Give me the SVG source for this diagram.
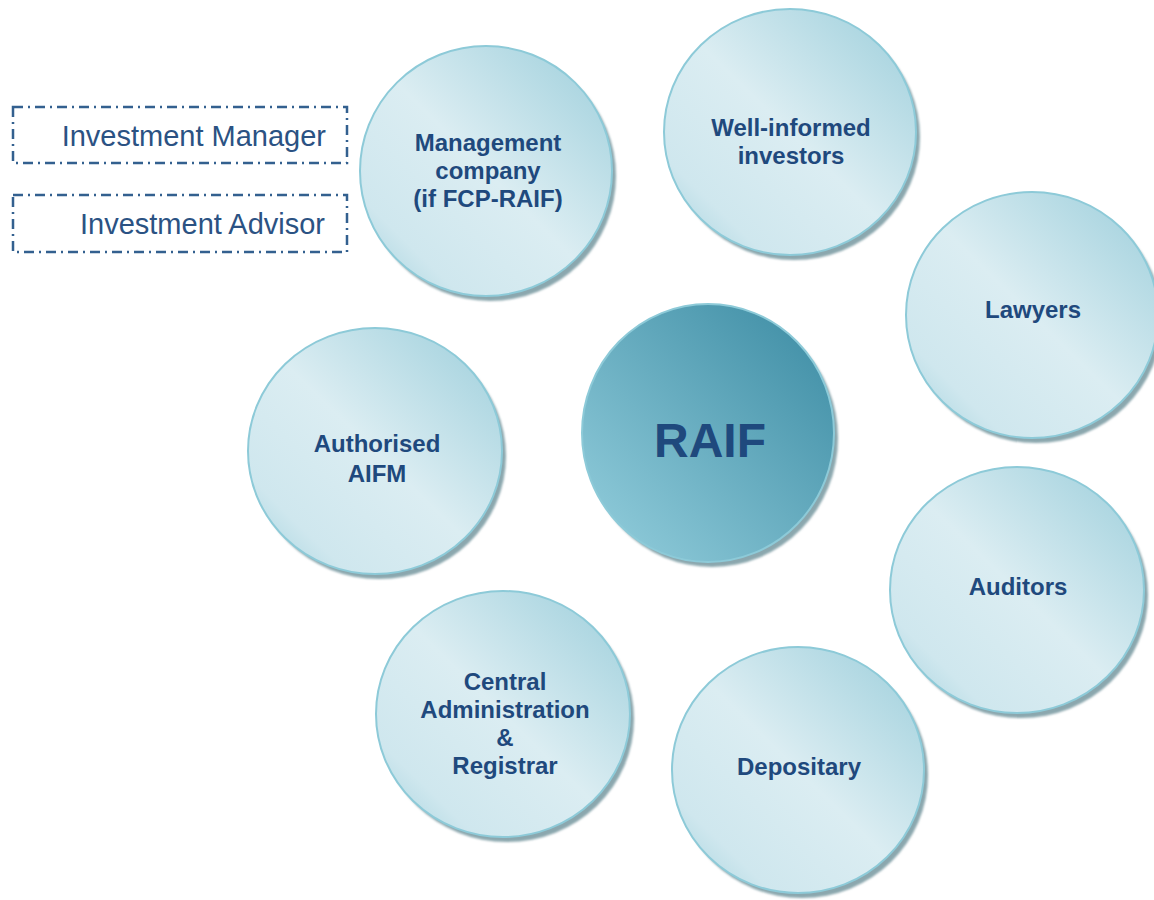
<svg xmlns="http://www.w3.org/2000/svg" width="1154" height="900" viewBox="0 0 1154 900">
  <defs>
    <linearGradient id="bubble" x1="1" y1="0" x2="0" y2="1">
      <stop offset="0" stop-color="#9ccedb"/>
      <stop offset="0.5" stop-color="#dbedf2"/>
      <stop offset="0.8" stop-color="#cfe7ee"/>
      <stop offset="1" stop-color="#9fd0dc"/>
    </linearGradient>
    <linearGradient id="core" x1="1" y1="0" x2="0" y2="1">
      <stop offset="0" stop-color="#3a8aa2"/>
      <stop offset="1" stop-color="#96d0de"/>
    </linearGradient>
    <filter id="soft" x="-10%" y="-10%" width="120%" height="120%">
      <feGaussianBlur stdDeviation="1.2"/>
    </filter>
  </defs>
  <style>
    .shadow { fill: #8ba7ae; filter: url(#soft); }
    .bubble { fill: url(#bubble); stroke: #8dcad8; stroke-width: 2; }
    .core { fill: url(#core); stroke: #8dcad8; stroke-width: 2; }
    .label { font-family: "Liberation Sans", Arial, sans-serif; font-weight: bold; font-size: 24px; fill: #1f497d; text-anchor: middle; }
    .big { font-size: 48px; }
    .role { fill: none; stroke: #33608f; stroke-width: 2.5; stroke-dasharray: 10 5 2 5; }
    .roletext { font-family: "Liberation Sans", Arial, sans-serif; font-size: 29px; fill: #2b5283; text-anchor: end; }
  </style>

  <rect width="1154" height="900" fill="#ffffff"/>

  <!-- side roles -->
  <g id="investment-manager">
    <rect class="role" x="13" y="107" width="334" height="56"/>
    <text class="roletext" x="326" y="146">Investment Manager</text>
  </g>
  <g id="investment-advisor">
    <rect class="role" x="13" y="195" width="334" height="57"/>
    <text class="roletext" x="325" y="234">Investment Advisor</text>
  </g>

  <!-- parties around the fund -->
  <g id="management-company">
    <ellipse class="shadow" cx="490" cy="176" rx="126" ry="125"/>
    <ellipse class="bubble" cx="486" cy="171" rx="126" ry="125"/>
    <text class="label" x="488" y="151">Management</text>
    <text class="label" x="488" y="179">company</text>
    <text class="label" x="488" y="207">(if FCP-RAIF)</text>
  </g>
  <g id="well-informed-investors">
    <ellipse class="shadow" cx="794" cy="137" rx="126" ry="123"/>
    <ellipse class="bubble" cx="790" cy="132" rx="126" ry="123"/>
    <text class="label" x="791" y="136">Well-informed</text>
    <text class="label" x="791" y="164">investors</text>
  </g>
  <g id="lawyers">
    <ellipse class="shadow" cx="1036" cy="320" rx="126" ry="123"/>
    <ellipse class="bubble" cx="1032" cy="315" rx="126" ry="123"/>
    <text class="label" x="1033" y="318">Lawyers</text>
  </g>
  <g id="raif">
    <ellipse class="shadow" cx="712" cy="438" rx="126" ry="129"/>
    <ellipse class="core" cx="708" cy="433" rx="126" ry="129"/>
    <text class="label big" x="710" y="457">RAIF</text>
  </g>
  <g id="authorised-aifm">
    <ellipse class="shadow" cx="379" cy="456" rx="127" ry="123"/>
    <ellipse class="bubble" cx="375" cy="451" rx="127" ry="123"/>
    <text class="label" x="377" y="452">Authorised</text>
    <text class="label" x="377" y="482">AIFM</text>
  </g>
  <g id="auditors">
    <ellipse class="shadow" cx="1021" cy="595" rx="127" ry="123"/>
    <ellipse class="bubble" cx="1017" cy="590" rx="127" ry="123"/>
    <text class="label" x="1018" y="595">Auditors</text>
  </g>
  <g id="central-administration">
    <ellipse class="shadow" cx="507" cy="719" rx="127" ry="123"/>
    <ellipse class="bubble" cx="503" cy="714" rx="127" ry="123"/>
    <text class="label" x="505" y="690">Central</text>
    <text class="label" x="505" y="718">Administration</text>
    <text class="label" x="505" y="746">&amp;</text>
    <text class="label" x="505" y="774">Registrar</text>
  </g>
  <g id="depositary">
    <ellipse class="shadow" cx="802" cy="775" rx="126" ry="123"/>
    <ellipse class="bubble" cx="798" cy="770" rx="126" ry="123"/>
    <text class="label" x="799" y="775">Depositary</text>
  </g>

  <!-- no connectors are drawn between the parties -->
  <g id="connectors"/>
</svg>
